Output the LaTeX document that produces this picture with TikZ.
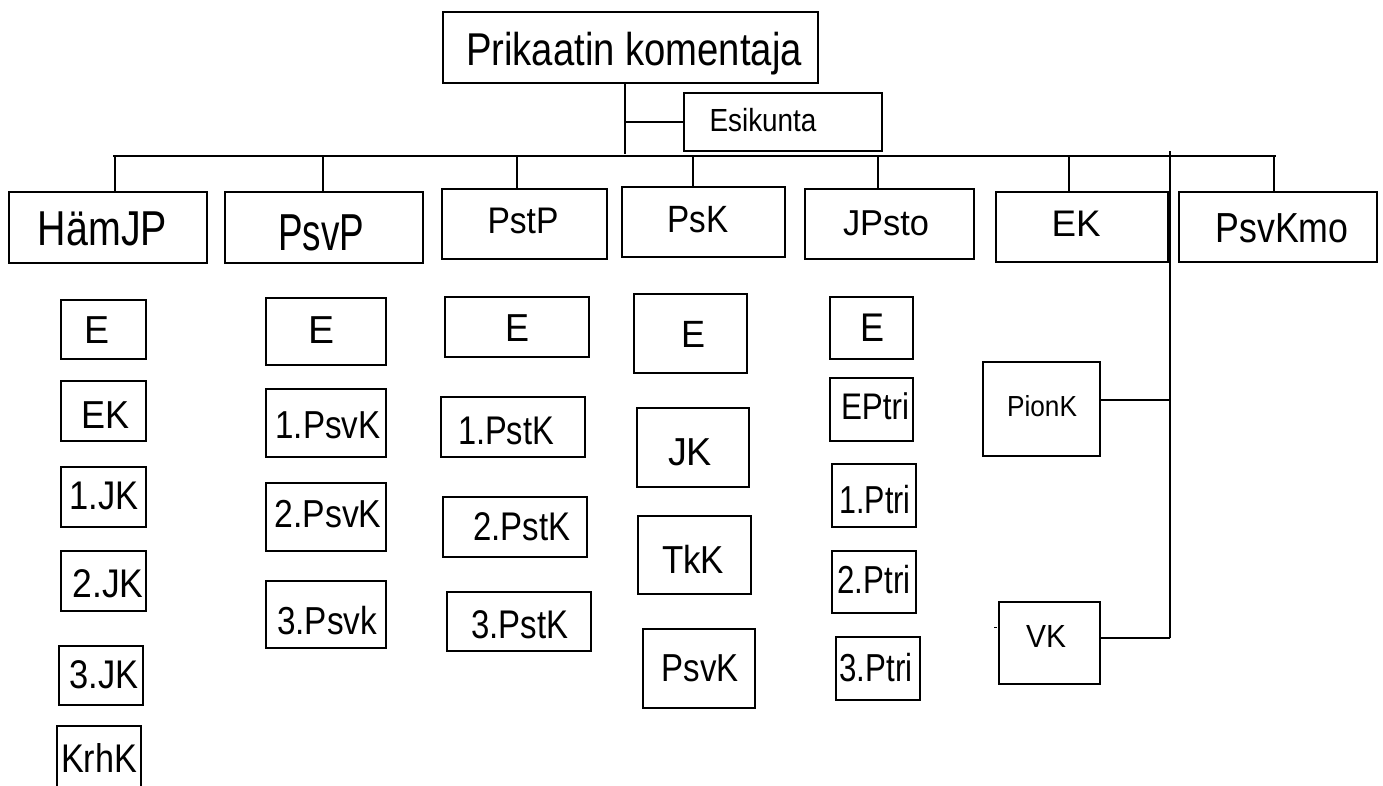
\documentclass[tikz,border=0pt]{standalone}
\usepackage{fontspec}
\usepackage{graphicx}
\setmainfont{Liberation Sans}
\tikzset{
  boxst/.style={draw=black, line width=1.4pt, rectangle, inner sep=0pt, outer sep=0pt},
  lbl/.style={inner sep=0pt, outer sep=0pt, anchor=base, text=black},
  conn/.style={draw=black, line width=1.2pt},
}
\newcommand\bx[5]{%
  \pgfmathsetmacro\bxw{#4-#2}\pgfmathsetmacro\bxh{#5-#3}%
  \node[boxst, minimum width=\bxw pt, minimum height=\bxh pt] (#1) at ({(#2+#4)/2},{(#3+#5)/2}) {};}
\newcommand\tx[6]{%
  \node[lbl] (t-#1) at (#2,#3) {\resizebox{#5pt}{\height}{\fontsize{#4}{#4}\selectfont #6}};}
\begin{document}
\begin{tikzpicture}[x=1pt,y=-1pt]
\path[use as bounding box, fill=white] (0,0) rectangle (1383,785);
\begin{scope}
\clip (0,0) rectangle (1383,785);
% top
\bx{prk}{443}{12}{818}{83}
\bx{esk}{684}{93}{882}{151}
% level 1
\bx{hamjp}{9}{192}{207}{263}
\bx{psvp}{225}{192}{423}{263}
\bx{pstp}{442}{189}{607}{259}
\bx{psk}{622}{187}{785}{257}
\bx{jpsto}{805}{189}{974}{259}
\bx{ek}{996}{192}{1168}{262}
\bx{psvkmo}{1179}{192}{1377}{262}
% HamJP column
\bx{h1}{61}{300}{146}{359}
\bx{h2}{61}{381}{146}{441}
\bx{h3}{61}{467}{146}{527}
\bx{h4}{61}{551}{146}{611}
\bx{h5}{59}{646}{143}{705}
\bx{h6}{57}{726}{141}{800}
% PsvP column
\bx{p1}{266}{298}{386}{365}
\bx{p2}{266}{389}{386}{457}
\bx{p3}{266}{483}{386}{551}
\bx{p4}{266}{581}{386}{648}
% PstP column
\bx{s1}{445}{297}{589}{357}
\bx{s2}{441}{397}{585}{457}
\bx{s3}{443}{497}{587}{557}
\bx{s4}{447}{592}{591}{651}
% PsK column
\bx{k1}{634}{294}{747}{373}
\bx{k2}{637}{408}{749}{487}
\bx{k3}{638}{516}{751}{594}
\bx{k4}{643}{629}{755}{708}
% JPsto column
\bx{j1}{830}{297}{913}{359}
\bx{j2}{830}{378}{913}{441}
\bx{j3}{832}{464}{916}{527}
\bx{j4}{832}{551}{916}{613}
\bx{j5}{836}{637}{920}{700}
% EK side
\bx{pionk}{983}{362}{1100}{456}
\bx{vk}{999}{602}{1100}{684}
\end{scope}
% texts
\tx{prk}{634}{65}{46}{336}{Prikaatin komentaja}
\tx{esk}{763}{131}{32}{107}{Esikunta}
\tx{hamjp}{102.5}{245}{49}{129}{HämJP}
\tx{psvp}{321}{250}{52}{86}{PsvP}
\tx{pstp}{523}{233}{37}{71}{PstP}
\tx{psk}{698}{232}{38}{61}{PsK}
\tx{jpsto}{886}{235}{36}{86}{JPsto}
\tx{ek}{1076}{236}{37}{49}{EK}
\tx{psvkmo}{1282}{242}{42}{133}{PsvKmo}
\tx{h1}{97}{343}{39}{25}{E}
\tx{h2}{105}{428}{39}{48}{EK}
\tx{h3}{104}{509}{40}{69}{1.JK}
\tx{h4}{108}{597}{40}{71}{2.JK}
\tx{h5}{104}{688}{40}{69}{3.JK}
\tx{h6}{99}{772}{40}{76}{KrhK}
\tx{p1}{321}{343}{39}{26}{E}
\tx{p2}{328}{438}{39}{105}{1.PsvK}
\tx{p3}{328}{527}{39}{107}{2.PsvK}
\tx{p4}{327}{634}{39}{100}{3.Psvk}
\tx{s1}{517}{341}{39}{24}{E}
\tx{s2}{506}{444}{40}{96}{1.PstK}
\tx{s3}{522}{540}{40}{97}{2.PstK}
\tx{s4}{520}{638}{40}{97}{3.PstK}
\tx{k1}{693}{347}{38}{24}{E}
\tx{k2}{690}{465}{39}{44}{JK}
\tx{k3}{693}{573}{39}{62}{TkK}
\tx{k4}{700}{681}{39}{77}{PsvK}
\tx{j1}{872}{341}{40}{24}{E}
\tx{j2}{875}{419}{37}{68}{EPtri}
\tx{j3}{875}{513}{39}{71}{1.Ptri}
\tx{j4}{874}{593}{39}{73}{2.Ptri}
\tx{j5}{876}{681}{39}{73}{3.Ptri}
\tx{pionk}{1042}{416}{29}{70}{PionK}
\tx{vk}{1046}{647}{32}{40}{VK}
% connectors
\coordinate (busL) at (113,156);
\coordinate (busR) at (1276,156);
\coordinate (trunk) at (625,154);
\draw[conn] (busL) -- (busR);
\draw[conn] (trunk |- prk.south) -- (trunk);
\draw[conn] (trunk |- esk.west) -- (esk.west);
\coordinate (d1) at (115,156);
\coordinate (d2) at (323,156);
\coordinate (d3) at (517,156);
\coordinate (d4) at (693,156);
\coordinate (d5) at (878,156);
\coordinate (d6) at (1069,156);
\coordinate (d7) at (1274,156);
\draw[conn] (d1) -- (d1 |- hamjp.north);
\draw[conn] (d2) -- (d2 |- psvp.north);
\draw[conn] (d3) -- (d3 |- pstp.north);
\draw[conn] (d4) -- (d4 |- psk.north);
\draw[conn] (d5) -- (d5 |- jpsto.north);
\draw[conn] (d6) -- (d6 |- ek.north);
\draw[conn] (d7) -- (d7 |- psvkmo.north);
\coordinate (vt) at (1170,151);
\coordinate (pj) at (1170,400);
\coordinate (vj) at (1170,638);
\draw[conn] (vt) -- (vj);
\draw[conn] (pj) -- (pj -| pionk.east);
\draw[conn] (vj) -- (vj -| vk.east);
\coordinate (dash) at (994,627);
\draw[draw=black, line width=0.8pt] (dash) -- ([xshift=3pt]dash);
\end{tikzpicture}
\end{document}
